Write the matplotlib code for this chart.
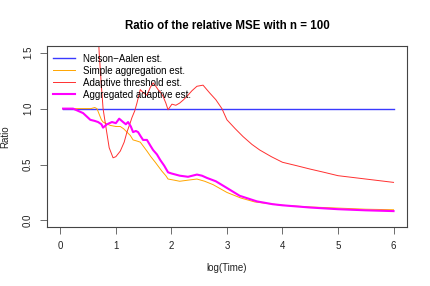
import numpy as np
import matplotlib
matplotlib.use("Agg")
import matplotlib.pyplot as plt

plt.rcParams['font.family'] = ['Liberation Sans', 'DejaVu Sans']

# Nelson-Aalen reference (ratio 1)
na_x = [0.05, 6.0]
na_y = [1.0, 1.0]

# Simple aggregation est.
sa_x = [0.05, 0.3, 0.55, 0.62, 0.66, 0.70, 0.74, 0.77, 0.85, 0.9, 1.0, 1.08, 1.14, 1.2,
        1.26, 1.31, 1.38, 1.44, 1.5, 1.56, 1.63, 1.71, 1.77, 1.83, 1.9, 1.94, 2.05, 2.15,
        2.3, 2.46, 2.6, 2.75, 3.0, 3.25, 3.5, 4.0, 4.5, 5.0, 5.5, 6.0]
sa_y = [1.0, 1.0, 1.0, 1.01, 1.0, 0.95, 0.90, 0.88, 0.86, 0.85, 0.84, 0.84, 0.82, 0.79,
        0.76, 0.72, 0.71, 0.70, 0.66, 0.62, 0.57, 0.52, 0.48, 0.44, 0.40, 0.37, 0.36, 0.35,
        0.36, 0.37, 0.35, 0.32, 0.25, 0.20, 0.165, 0.135, 0.12, 0.11, 0.10, 0.095]

# Adaptive threshold est.
at_x = [0.66, 0.70, 0.74, 0.77, 0.81, 0.88, 0.95, 1.0, 1.08, 1.15, 1.2, 1.25, 1.29, 1.34,
        1.38, 1.44, 1.5, 1.56, 1.62, 1.67, 1.72, 1.76, 1.8, 1.85, 1.9, 1.94, 2.01, 2.08,
        2.15, 2.22, 2.28, 2.37, 2.46, 2.57, 2.69, 2.8, 2.91, 3.0, 3.15, 3.29, 3.45, 3.59,
        3.8, 4.0, 4.25, 4.49, 4.75, 5.0, 5.5, 6.0]
at_y = [1.9, 1.5, 1.2, 1.0, 0.87, 0.65, 0.56, 0.57, 0.62, 0.70, 0.79, 0.86, 0.92, 0.98,
        1.05, 1.17, 1.14, 1.12, 1.19, 1.23, 1.20, 1.17, 1.15, 1.11, 1.05, 0.99, 1.04, 1.03,
        1.05, 1.08, 1.11, 1.16, 1.20, 1.21, 1.14, 1.08, 1.0, 0.90, 0.82, 0.75, 0.68, 0.63,
        0.57, 0.52, 0.49, 0.46, 0.43, 0.40, 0.37, 0.34]

# Aggregated adaptive est.
ag_x = [0.05, 0.23, 0.32, 0.41, 0.54, 0.62, 0.68, 0.74, 0.77, 0.84, 0.93, 1.0, 1.06, 1.13,
        1.18, 1.22, 1.27, 1.31, 1.36, 1.40, 1.45, 1.49, 1.56, 1.62, 1.67, 1.74, 1.80, 1.87,
        1.94, 2.0, 2.15, 2.3, 2.46, 2.55, 2.64, 2.8, 3.0, 3.23, 3.54, 3.82, 4.0, 4.5, 5.0,
        5.5, 6.0]
ag_y = [1.0, 1.0, 0.98, 0.96, 0.90, 0.89, 0.88, 0.86, 0.83, 0.86, 0.88, 0.87, 0.91, 0.88,
        0.86, 0.88, 0.84, 0.79, 0.80, 0.79, 0.75, 0.72, 0.72, 0.67, 0.63, 0.59, 0.54, 0.49,
        0.43, 0.42, 0.40, 0.39, 0.41, 0.40, 0.38, 0.35, 0.29, 0.22, 0.17, 0.145, 0.135, 0.115,
        0.10, 0.09, 0.083]

fig = plt.figure(figsize=(4.31, 2.86), dpi=100)
ax = fig.add_axes([0.109, 0.206, 0.835, 0.633])

ax.plot(na_x, na_y, color="#3a3aff", linewidth=1.0, label="Nelson\u2212Aalen est.")
ax.plot(sa_x, sa_y, color="#ffa500", linewidth=0.7, label="Simple aggregation est.")
ax.plot(at_x, at_y, color="#ff3030", linewidth=0.7, label="Adaptive threshold est.")
ax.plot(ag_x, ag_y, color="magenta", linewidth=1.5, label="Aggregated adaptive est.")

ax.set_xlim(-0.24, 6.24)
ax.set_ylim(-0.06, 1.56)
ax.set_xticks([0, 1, 2, 3, 4, 5, 6])
ax.set_yticks([0.0, 0.5, 1.0, 1.5])
ax.set_yticklabels(["0.0", "0.5", "1.0", "1.5"], rotation=90, va="center")
ax.tick_params(labelsize=7, length=5, width=0.6, pad=5, color="#555555", labelcolor="#222222")
for s in ax.spines.values():
    s.set_linewidth(0.8)
    s.set_color("#444444")

ax.set_title("Ratio of the relative MSE with n = 100", fontsize=8.3, fontweight="bold", pad=12)
ax.set_xlabel("log(Time)", fontsize=7, labelpad=9, color="#222222")
ax.set_ylabel("Ratio", fontsize=7, labelpad=9, color="#222222")

ax.legend(loc="upper left", frameon=False, fontsize=7, handlelength=2.3,
          handletextpad=0.85, labelspacing=0.2, borderaxespad=0.2,
          bbox_to_anchor=(0.0, 0.99))

fig.savefig("out.png", dpi=100)
